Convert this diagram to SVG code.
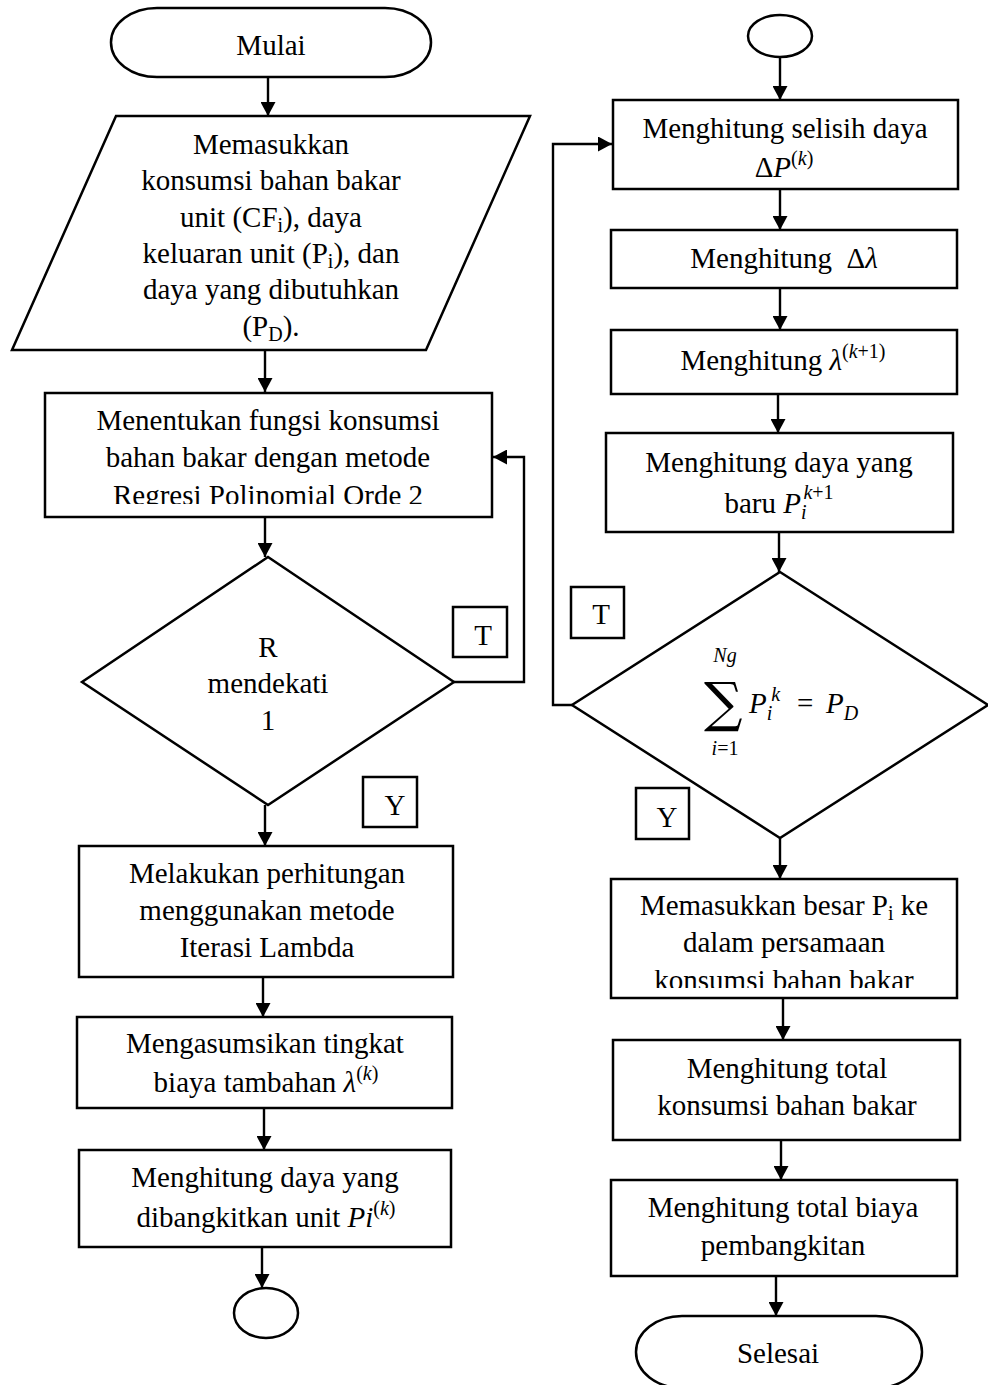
<svg xmlns="http://www.w3.org/2000/svg" width="988" height="1385" viewBox="0 0 988 1385">
  <style>
    .shape { fill: #ffffff; stroke: #000000; stroke-width: 2.5; }
    .conn { fill: none; stroke: #000000; stroke-width: 2.4; marker-end: url(#arrow); }
    .t { font-family: "Liberation Serif", "Times New Roman", serif; font-size: 29px; text-anchor: middle; fill: #000000; }
    .ts { font-family: "Liberation Serif", "Times New Roman", serif; font-size: 29px; text-anchor: start; fill: #000000; }
    .op { font-family: "DejaVu Serif", serif; font-size: 54px; text-anchor: start; fill: #000000; }
    .it { font-style: italic; }
    .sm { font-size: 20px; }
  </style>
  <defs>
    <marker id="arrow" markerUnits="userSpaceOnUse" markerWidth="15" markerHeight="15" refX="14" refY="7.5" orient="auto">
      <path d="M0,0 L14,7.5 L0,15 Z" fill="#000000"/>
    </marker>
    <clipPath id="clipRegresi"><rect x="45" y="393" width="447" height="111"/></clipPath>
    <clipPath id="clipPersamaan"><rect x="611" y="879" width="346" height="109"/></clipPath>
  </defs>

  <rect width="988" height="1385" fill="#ffffff"/>

  <!-- connectors -->
  <g id="connectors">
    <path class="conn" d="M268,77 V116"/>
    <path class="conn" d="M265,350 V392"/>
    <path class="conn" d="M265,517 V557"/>
    <path class="conn" d="M454,682 H524 V457 H493"/>
    <path class="conn" d="M265,805 V846"/>
    <path class="conn" d="M263,977 V1017"/>
    <path class="conn" d="M264,1108 V1150"/>
    <path class="conn" d="M262,1247 V1288"/>

    <path class="conn" d="M780,57 V100"/>
    <path class="conn" d="M780,189 V230"/>
    <path class="conn" d="M780,288 V330"/>
    <path class="conn" d="M778,394 V433"/>
    <path class="conn" d="M779,532 V572"/>
    <path class="conn" d="M572,705 H553 V144 H612"/>
    <path class="conn" d="M780,838 V879"/>
    <path class="conn" d="M783,998 V1040"/>
    <path class="conn" d="M781,1140 V1180"/>
    <path class="conn" d="M776,1276 V1316"/>
  </g>

  <!-- left column -->
  <g id="mulai">
    <rect class="shape" x="111" y="8" width="320" height="69" rx="46" ry="34.5"/>
    <text class="t" x="271" y="55">Mulai</text>
  </g>

  <g id="input-data">
    <polygon class="shape" points="116,116 530,116 426,350 12,350"/>
    <text class="t" x="271" y="154">Memasukkan</text>
    <text class="t" x="271" y="190">konsumsi bahan bakar</text>
    <text class="t" x="271" y="227">unit (CF<tspan class="sm" dy="5">i</tspan><tspan dy="-5">), daya</tspan></text>
    <text class="t" x="271" y="263">keluaran unit (P<tspan class="sm" dy="5">i</tspan><tspan dy="-5">), dan</tspan></text>
    <text class="t" x="271" y="299">daya yang dibutuhkan</text>
    <text class="t" x="271" y="336">(P<tspan class="sm" dy="5">D</tspan><tspan dy="-5">).</tspan></text>
  </g>

  <g id="regresi">
    <rect class="shape" x="45" y="393" width="447" height="124"/>
    <g clip-path="url(#clipRegresi)">
      <text class="t" x="268" y="430">Menentukan fungsi konsumsi</text>
      <text class="t" x="268" y="467">bahan bakar dengan metode</text>
      <text class="t" x="268" y="505">Regresi Polinomial Orde 2</text>
    </g>
  </g>

  <g id="cek-r">
    <polygon class="shape" points="268,557 454,682 268,805 82,682"/>
    <text class="t" x="268" y="657">R</text>
    <text class="t" x="268" y="693">mendekati</text>
    <text class="t" x="268" y="730">1</text>
  </g>

  <g id="label-t1">
    <rect class="shape" x="453" y="607" width="54" height="50"/>
    <text class="t" x="483" y="645">T</text>
  </g>

  <g id="label-y1">
    <rect class="shape" x="363" y="777" width="54" height="50"/>
    <text class="t" x="395" y="815">Y</text>
  </g>

  <g id="iterasi-lambda">
    <rect class="shape" x="79" y="846" width="374" height="131"/>
    <text class="t" x="267" y="883">Melakukan perhitungan</text>
    <text class="t" x="267" y="920">menggunakan metode</text>
    <text class="t" x="267" y="957">Iterasi Lambda</text>
  </g>

  <g id="asumsi-lambda">
    <rect class="shape" x="77" y="1017" width="375" height="91"/>
    <text class="t" x="265" y="1053">Mengasumsikan tingkat</text>
    <text class="t" x="266" y="1092">biaya tambahan <tspan class="it">λ</tspan><tspan class="sm" dy="-12">(<tspan class="it">k</tspan>)</tspan></text>
  </g>

  <g id="daya-dibangkitkan">
    <rect class="shape" x="79" y="1150" width="372" height="97"/>
    <text class="t" x="265" y="1187">Menghitung daya yang</text>
    <text class="t" x="266" y="1227">dibangkitkan unit <tspan class="it">Pi</tspan><tspan class="sm" dy="-12">(<tspan class="it">k</tspan>)</tspan></text>
  </g>

  <g id="konektor-a-out">
    <ellipse class="shape" cx="266" cy="1313" rx="32" ry="25"/>
  </g>

  <!-- right column -->
  <g id="konektor-a-in">
    <ellipse class="shape" cx="780" cy="36" rx="32" ry="21"/>
  </g>

  <g id="selisih-daya">
    <rect class="shape" x="613" y="100" width="345" height="89"/>
    <text class="t" x="785" y="138">Menghitung selisih daya</text>
    <text class="t" x="784" y="177">Δ<tspan class="it">P</tspan><tspan class="sm" dy="-12">(<tspan class="it">k</tspan>)</tspan></text>
  </g>

  <g id="delta-lambda">
    <rect class="shape" x="611" y="230" width="346" height="58"/>
    <text class="t" x="784" y="268" xml:space="preserve">Menghitung  Δ<tspan class="it">λ</tspan></text>
  </g>

  <g id="lambda-baru">
    <rect class="shape" x="611" y="330" width="346" height="64"/>
    <text class="t" x="783" y="370">Menghitung <tspan class="it">λ</tspan><tspan class="sm" dy="-12">(<tspan class="it">k</tspan>+1)</tspan></text>
  </g>

  <g id="daya-baru">
    <rect class="shape" x="606" y="433" width="347" height="99"/>
    <text class="t" x="779" y="472">Menghitung daya yang</text>
    <text class="t" x="779" y="513">baru <tspan class="it">P</tspan><tspan class="sm it" dy="6">i</tspan><tspan class="sm" dx="-3" dy="-20"><tspan class="it">k</tspan>+1</tspan></text>
  </g>

  <g id="cek-daya">
    <polygon class="shape" points="780,572 988,705 780,838 572,705"/>
    <text class="t sm it" x="725" y="662">Ng</text>
    <text class="op" x="704" y="721">∑</text>
    <text class="t sm" x="725" y="755"><tspan class="it">i</tspan>=1</text>
    <text class="ts" x="749" y="713"><tspan class="it">P</tspan><tspan class="sm it" dy="7">i</tspan><tspan class="sm it" dx="-1" dy="-19">k</tspan></text>
    <text class="ts" x="797" y="713">=</text>
    <text class="ts" x="826" y="713"><tspan class="it">P</tspan><tspan class="sm it" dy="7">D</tspan></text>
  </g>

  <g id="label-t2">
    <rect class="shape" x="571" y="587" width="53" height="51"/>
    <text class="t" x="601" y="624">T</text>
  </g>

  <g id="label-y2">
    <rect class="shape" x="636" y="788" width="53" height="51"/>
    <text class="t" x="667" y="827">Y</text>
  </g>

  <g id="persamaan-konsumsi">
    <rect class="shape" x="611" y="879" width="346" height="119"/>
    <g clip-path="url(#clipPersamaan)">
      <text class="t" x="784" y="915">Memasukkan besar P<tspan class="sm" dy="5">i</tspan><tspan dy="-5"> ke</tspan></text>
      <text class="t" x="784" y="952">dalam persamaan</text>
      <text class="t" x="784" y="990">konsumsi bahan bakar</text>
    </g>
  </g>

  <g id="total-konsumsi">
    <rect class="shape" x="613" y="1040" width="347" height="100"/>
    <text class="t" x="787" y="1078">Menghitung total</text>
    <text class="t" x="787" y="1115">konsumsi bahan bakar</text>
  </g>

  <g id="total-biaya">
    <rect class="shape" x="611" y="1180" width="346" height="96"/>
    <text class="t" x="783" y="1217">Menghitung total biaya</text>
    <text class="t" x="783" y="1255">pembangkitan</text>
  </g>

  <g id="selesai">
    <rect class="shape" x="636" y="1316" width="286" height="72" rx="46" ry="36"/>
    <text class="t" x="778" y="1363">Selesai</text>
  </g>
</svg>
